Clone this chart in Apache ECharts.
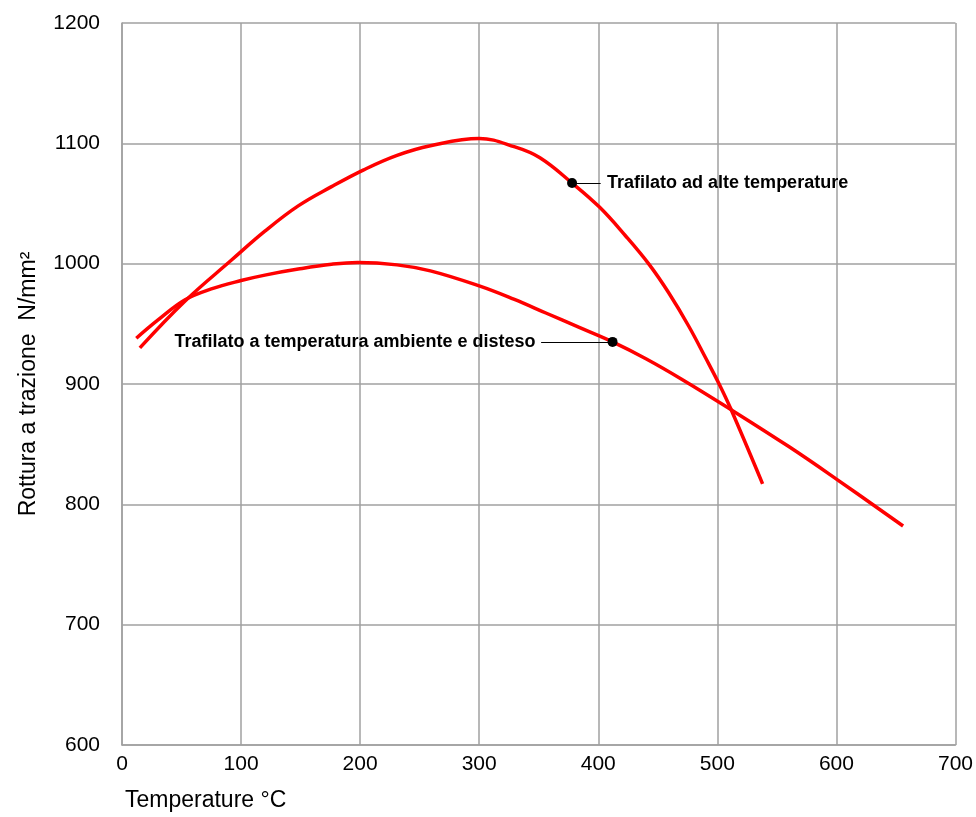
<!DOCTYPE html>
<html>
<head>
<meta charset="utf-8">
<script src="https://cdn.jsdelivr.net/npm/echarts@6/dist/echarts.min.js"></script>
<style>html,body{margin:0;padding:0;background:#fff}#c{width:976px;height:817px}</style>
</head>
<body>
<div id="c"></div>
<script>
// Temperature (°C) / tensile strength (N/mm²) pairs
const highTempT = [15, 53, 92, 120, 148, 176, 203, 231, 259, 300, 330, 351, 378, 401, 423, 443, 459, 476, 490, 502, 511, 538];
const highTempV = [930, 969, 1003, 1027, 1048, 1064, 1078, 1090, 1098, 1104, 1097, 1088, 1067, 1047, 1023, 999, 976, 948, 922, 899, 880, 817];
const ambientT = [12, 30, 53, 75, 100, 120, 148, 176, 198, 231, 259, 300, 329, 356, 384, 412, 440, 470, 511, 560, 600, 656];
const ambientV = [938, 953, 970, 979, 986, 990.5, 995.5, 999.5, 1001, 999, 994, 981.5, 970.5, 959, 947, 935, 921, 904, 879, 848, 821, 782];

const seriesNames = ['Trafilato ad alte temperature', 'Trafilato a temperatura ambiente e disteso'];
const markerPoints = [[378, 1067], [412, 935]];
const leaderEnds = [402, 352];
const xTicks = [0, 100, 200, 300, 400, 500, 600, 700];
const yTicks = [600, 700, 800, 900, 1000, 1100, 1200];

const zip = (a, b) => a.map((v, i) => [v, b[i]]);
const FONT = '"Liberation Sans", Arial, sans-serif';
const gridColor = '#a0a0a0';
const labelStyle = {fontFamily: FONT, fontSize: 18, fontWeight: 'bold', color: '#000'};

const chart = echarts.init(document.getElementById('c'), null, {renderer: 'canvas'});
chart.setOption({
  animation: false,
  backgroundColor: '#fff',
  title: {
    text: 'Temperature °C', left: 120, top: 784,
    textStyle: {fontFamily: FONT, fontSize: 23, fontWeight: 'normal', color: '#000'}
  },
  grid: {left: 122, right: 17, top: 23, bottom: 72},
  xAxis: {
    type: 'value', min: xTicks[0], max: xTicks[xTicks.length - 1], interval: 100,
    axisLine: {show: true, lineStyle: {color: gridColor, width: 1.5}},
    axisTick: {show: false},
    splitLine: {show: true, lineStyle: {color: gridColor, width: 1.5}},
    axisLabel: {margin: 9, fontFamily: FONT, fontSize: 21, color: '#000', formatter: v => String(v)}
  },
  yAxis: {
    type: 'value', min: yTicks[0], max: yTicks[yTicks.length - 1], interval: 100,
    name: 'Rottura a trazione  N/mm²', nameLocation: 'middle', nameGap: 82,
    nameTextStyle: {fontFamily: FONT, fontSize: 23, color: '#000'},
    axisLine: {show: true, lineStyle: {color: gridColor, width: 1.5}},
    axisTick: {show: false},
    splitLine: {show: true, lineStyle: {color: gridColor, width: 1.5}},
    axisLabel: {margin: 22, fontFamily: FONT, fontSize: 21, color: '#000', formatter: v => String(v)}
  },
  series: [
    {
      name: seriesNames[0], type: 'line', smooth: 0.4, showSymbol: false,
      data: zip(highTempT, highTempV),
      lineStyle: {color: '#ff0000', width: 3.5}
    },
    {
      name: seriesNames[1], type: 'line', smooth: 0.4, showSymbol: false,
      data: zip(ambientT, ambientV),
      lineStyle: {color: '#ff0000', width: 3.5}
    },
    {
      type: 'scatter', symbolSize: 10, z: 5,
      itemStyle: {color: '#000', opacity: 1},
      data: [
        {value: markerPoints[0], label: Object.assign({show: true, position: 'right', distance: 30, formatter: seriesNames[0]}, labelStyle)},
        {value: markerPoints[1], label: Object.assign({show: true, position: 'left', distance: 72, formatter: seriesNames[1]}, labelStyle)}
      ],
      emphasis: {disabled: true},
      markLine: {
        silent: true, symbol: 'none', animation: false,
        lineStyle: {color: '#000', width: 1, type: 'solid', opacity: 1},
        label: {show: false},
        data: [
          [{coord: markerPoints[0]}, {coord: [leaderEnds[0], markerPoints[0][1]]}],
          [{coord: markerPoints[1]}, {coord: [leaderEnds[1], markerPoints[1][1]]}]
        ]
      }
    }
  ]
});
</script>
</body>
</html>
